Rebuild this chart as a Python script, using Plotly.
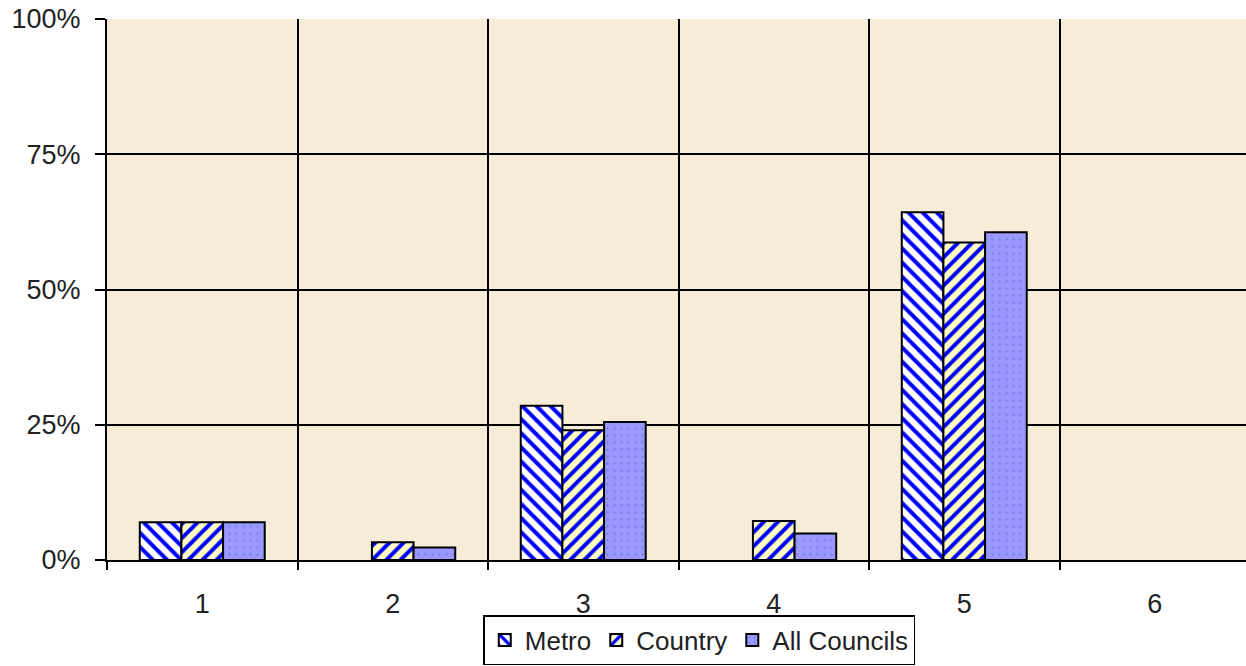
import plotly.graph_objects as go

categories = [1, 2, 3, 4, 5, 6]
tick_labels = ["1", "2", "3", "4", "5", "6"]
metro = [7.0, 0, 28.5, 0, 64.3, 0]
country = [7.0, 3.3, 24.0, 7.2, 58.7, 0]
all_councils = [7.0, 2.3, 25.5, 4.9, 60.6, 0]
y_ticks = [0, 25, 50, 75, 100]
y_tick_labels = ["0%", "25%", "50%", "75%", "100%"]

font = dict(family="Liberation Sans, Arial, sans-serif", size=27, color="#222222")
legend_font = dict(family="Liberation Sans, Arial, sans-serif", size=26, color="#222222")


def outline_widths(values):
    return [0 if v == 0 else 2 for v in values]


fig = go.Figure()
fig.add_trace(go.Bar(
    x=categories, y=metro, name="Metro",
    marker=dict(color="white", line=dict(color="black", width=outline_widths(metro)),
                pattern=dict(shape="\\", fgcolor="#0000FF", bgcolor="white",
                             fgopacity=1, size=10, solidity=0.4)),
))
fig.add_trace(go.Bar(
    x=categories, y=country, name="Country",
    marker=dict(color="#FFFFC0", line=dict(color="black", width=outline_widths(country)),
                pattern=dict(shape="/", fgcolor="#0000FF", bgcolor="#FFFFC0",
                             fgopacity=1, size=10, solidity=0.4)),
))
fig.add_trace(go.Bar(
    x=categories, y=all_councils, name="All Councils",
    marker=dict(color="#9999FF", line=dict(color="black", width=outline_widths(all_councils)),
                pattern=dict(shape=".", fgcolor="#8080E8", bgcolor="#9999FF",
                             fgopacity=1, size=7, solidity=0.1)),
))

fig.update_layout(
    width=1246, height=666,
    margin=dict(l=107, r=0, t=19, b=106, autoexpand=False),
    paper_bgcolor="white",
    plot_bgcolor="#F6ECD8",
    barmode="group", bargap=0.344, bargroupgap=0,
    font=font,
    showlegend=True,
    legend=dict(orientation="h", x=0.52, xanchor="center",
                y=-0.1017, yanchor="top",
                bgcolor="white", bordercolor="black", borderwidth=1.5,
                font=legend_font, itemwidth=30, traceorder="normal",
                tracegroupgap=0, itemclick=False),
)
fig.update_xaxes(
    range=[0.5, 6.479], tickmode="array", tickvals=categories, ticktext=tick_labels,
    ticks="", showgrid=False, zeroline=False, automargin=False,
    showline=True, linecolor="black", linewidth=2,
    ticklabelstandoff=19,
    minor=dict(tick0=0.5, dtick=1, showgrid=True, gridcolor="black", gridwidth=1.5,
               ticks="outside", ticklen=8, tickcolor="black", tickwidth=1.5),
)
fig.update_yaxes(
    range=[0, 100], tickmode="array", tickvals=y_ticks, ticktext=y_tick_labels,
    ticks="outside", ticklen=10, tickcolor="black", tickwidth=1.5,
    showgrid=True, gridcolor="black", gridwidth=1.5, zeroline=False, automargin=False,
    showline=True, linecolor="black", linewidth=2,
    ticklabelstandoff=9,
)

fig.write_html("out.html")
